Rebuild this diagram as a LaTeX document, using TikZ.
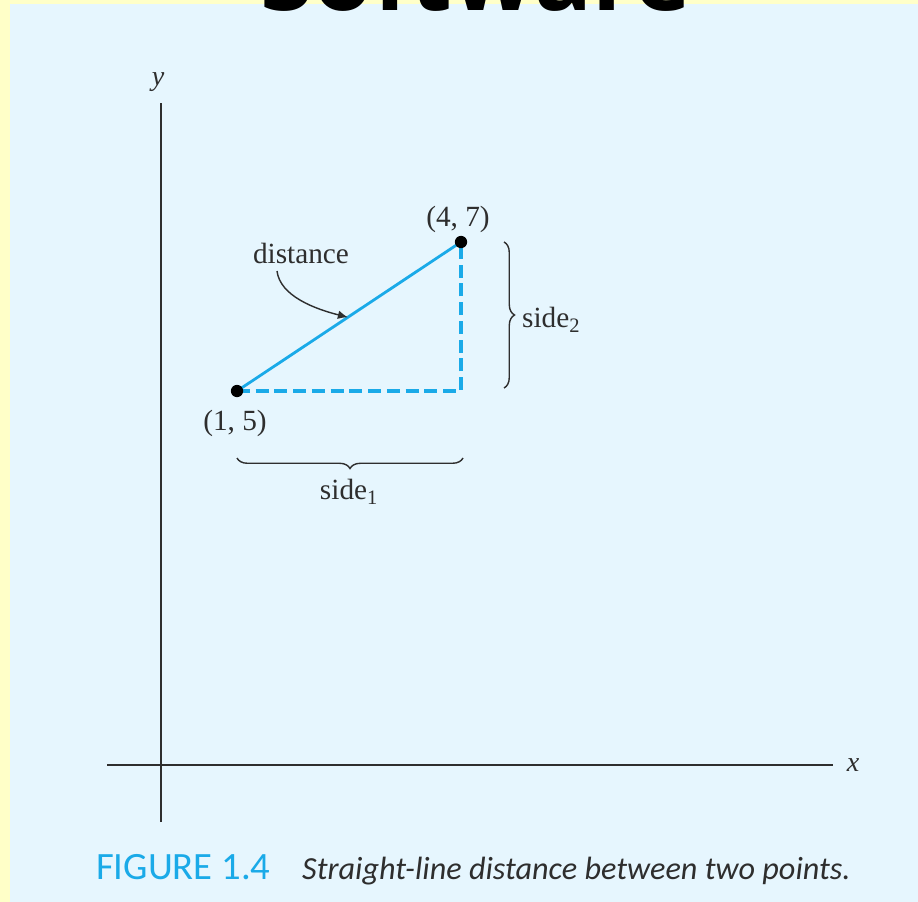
\documentclass[tikz,border=0pt]{standalone}
\usepackage{fontspec}
\setmainfont{Liberation Serif}
\newfontfamily\captionfont{Carlito}
\newfontfamily\bannerfont{Open Sans}
\usetikzlibrary{arrows.meta,decorations.pathreplacing,calc}
\pgfdeclarelayer{pane}
\pgfdeclarelayer{lines}
\pgfsetlayers{pane,lines,main}
\definecolor{frameYellow}{HTML}{FFFFC8}
\definecolor{paneBlue}{HTML}{E6F6FE}
\definecolor{lineBlue}{HTML}{1AAAE8}
\definecolor{inkGray}{HTML}{2E2E2E}
\tikzset{%
  >={Latex[width=2.6mm,length=3mm]},
  % Specifications for style of nodes and lines:
         axisLine/.style = {line width=1.7pt, draw=inkGray},
        axisLabel/.style = {font=\fontsize{24}{28}\selectfont\itshape, text=inkGray},
         pointDot/.style = {circle, fill=black, inner sep=0pt, minimum size=10.5pt},
       pointLabel/.style = {font=\fontsize{25}{30}\selectfont, text=inkGray},
         distLine/.style = {line width=2.4pt, draw=lineBlue},
         sideLine/.style = {line width=3.6pt, draw=lineBlue, dash pattern=on 11pt off 5pt},
        braceLine/.style = {line width=1.2pt, draw=inkGray,
                            decorate, decoration={brace, amplitude=9pt}},
}

\begin{document}
\begin{tikzpicture}[x=0.03cm, y=0.03cm]
  % frame and pane
  \clip (0,0) rectangle (918,-902);
  \begin{pgfonlayer}{pane}
    \fill[frameYellow] (0,0) rectangle (918,-902);
    \fill[paneBlue] (10,-4) rectangle (918,-902);
  \end{pgfonlayer}
  \node (banner) [anchor=base, font=\bannerfont\bfseries\fontsize{82}{90}\selectfont]
        at (476,-11) {Software};

  % axes
  \coordinate (yAxisTop) at (161,-103);
  \coordinate (yAxisBot) at (161,-822);
  \coordinate (xAxisLeft) at (107,-765);
  \coordinate (xAxisRight) at (833,-765);
  \draw[axisLine] (yAxisBot) -- (yAxisTop);
  \draw[axisLine] (xAxisLeft) -- (xAxisRight);
  \node (yLabel) [axisLabel] at (158,-82) {y};
  \node (xLabel) [axisLabel] at (853,-765) {x};

  % the two points
  \coordinate (corner) at (461,-391);
  \node (ptA) [pointDot] at (237,-391) {};
  \node (ptB) [pointDot] at (461,-242) {};
  \node (ptALabel) [pointLabel] at (235,-423) {(1, 5)};
  \node (ptBLabel) [pointLabel] at (458,-219) {(4, 7)};

  % lines between the points, kept under the dots
  \begin{pgfonlayer}{lines}
    \draw[sideLine] (ptA.center) -- (corner) -- (ptB.center);
    \draw[distLine] (ptA.center) -- (ptB.center);
  \end{pgfonlayer}

  % distance pointer
  \node (distLabel) [pointLabel] at (301,-253) {distance};
  \coordinate (distTip) at ($(ptA)!0.495!(ptB)$);
  \draw[->, line width=1.2pt, draw=inkGray]
        (277,-271) .. controls (280,-296) and (315,-309) .. (distTip);

  % braces
  \coordinate (brace1Start) at (237,-458);
  \coordinate (brace1End) at (463,-458);
  \coordinate (brace2Start) at (504,-242);
  \coordinate (brace2End) at (504,-388);
  \draw[braceLine] (brace1End) -- (brace1Start);
  \draw[braceLine] (brace2Start) -- (brace2End);
  \node (side1Label) [pointLabel] at (349,-492) {side\textsubscript{1}};
  \node (side2Label) [pointLabel, anchor=west] at (518,-320) {side\textsubscript{2}};

  % caption
  \node (capNum) [anchor=base west, inner sep=0pt, text=lineBlue,
        font=\captionfont\fontsize{33}{38}\selectfont] at (96,-879) {FIGURE 1.4};
  \node (capText) [anchor=base west, inner sep=0pt, text=inkGray,
        font=\captionfont\itshape\fontsize{27.5}{32}\selectfont] at (302,-879)
        {Straight-line distance between two points.};
\end{tikzpicture}
\end{document}
